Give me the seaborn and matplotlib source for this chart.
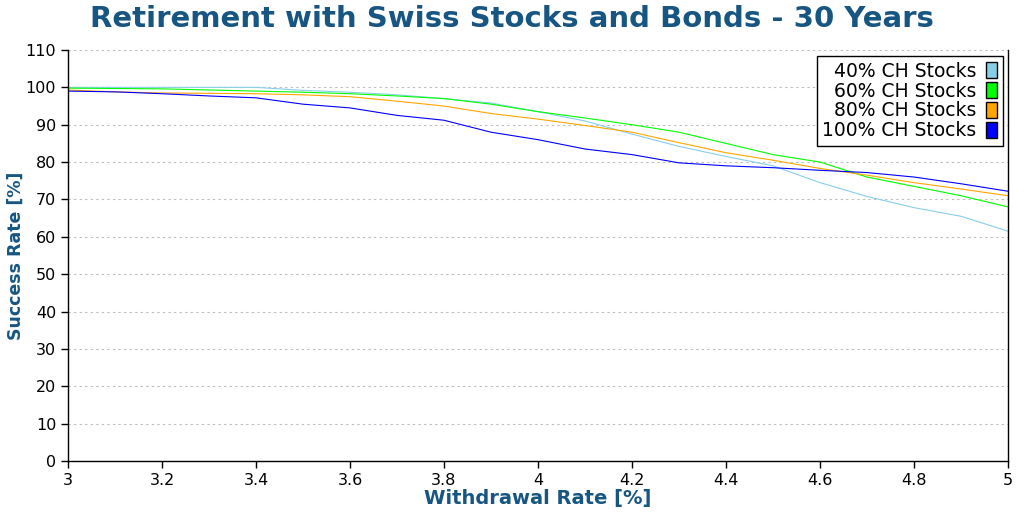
import matplotlib
matplotlib.use("Agg")
import matplotlib.pyplot as plt
import seaborn as sns
import pandas as pd
from matplotlib.patches import Patch

withdrawal = [3.0, 3.1, 3.2, 3.3, 3.4, 3.5, 3.6, 3.7, 3.8, 3.9, 4.0, 4.1, 4.2, 4.3, 4.4, 4.5, 4.6, 4.7, 4.8, 4.9, 5.0]
s40 = [100, 100, 100, 100, 100, 99.2, 98.7, 98.0, 97.0, 95.8, 93.5, 91.0, 87.5, 84.2, 81.5, 79.0, 74.5, 70.8, 67.8, 65.5, 61.5]
s60 = [99.8, 99.7, 99.6, 99.3, 99.0, 98.7, 98.3, 97.7, 97.0, 95.5, 93.5, 91.8, 90.0, 88.0, 85.0, 82.0, 80.0, 76.0, 73.5, 71.0, 68.0]
s80 = [99.3, 98.8, 98.5, 98.4, 98.3, 98.0, 97.5, 96.3, 95.0, 93.0, 91.5, 89.8, 88.0, 85.2, 82.5, 80.5, 78.3, 76.5, 74.5, 72.8, 71.0]
s100 = [99.0, 98.8, 98.3, 97.7, 97.2, 95.5, 94.5, 92.5, 91.2, 88.0, 86.0, 83.5, 82.0, 79.8, 79.0, 78.5, 77.8, 77.2, 76.0, 74.2, 72.2]
labels = ["40% CH Stocks", "60% CH Stocks", "80% CH Stocks", "100% CH Stocks"]
colors = ["#87ceeb", "#00ff00", "#ffa500", "#0000ff"]

rows = []
for lab, vals in zip(labels, [s40, s60, s80, s100]):
    for x, v in zip(withdrawal, vals):
        rows.append({"Withdrawal": x, "Success": v, "Portfolio": lab})
df = pd.DataFrame(rows)

sns.set_style("white")
plt.rcParams['font.family'] = ['DejaVu Sans']
title_color = "#175682"

fig = plt.figure(figsize=(10.24, 5.12), dpi=100)
ax = fig.add_axes([68/1024, 51/512, 940/1024, 411/512])

sns.lineplot(data=df, x="Withdrawal", y="Success", hue="Portfolio",
             palette=dict(zip(labels, colors)), linewidth=0.8, ax=ax, legend=False)

ax.set_xlim(3, 5)
ax.set_ylim(0, 110)
ax.set_xticks([3, 3.2, 3.4, 3.6, 3.8, 4, 4.2, 4.4, 4.6, 4.8, 5])
ax.set_xticklabels(["3", "3.2", "3.4", "3.6", "3.8", "4", "4.2", "4.4", "4.6", "4.8", "5"])
ax.set_yticks(range(0, 111, 10))
ax.yaxis.grid(True, linestyle=(0, (2, 3)), color="#bbbbbb", linewidth=0.8)
ax.xaxis.grid(False)
for s in ["left", "bottom", "right"]:
    ax.spines[s].set_visible(True)
    ax.spines[s].set_color("black")
    ax.spines[s].set_linewidth(1.0)
ax.spines["top"].set_visible(False)
ax.tick_params(axis="both", direction="out", length=5, width=1, color="black", labelcolor="black",
               labelsize=11.5, bottom=True, left=True)

ax.set_xlabel("Withdrawal Rate [%]", fontsize=14, fontweight="bold", color=title_color, labelpad=1)
ax.set_ylabel("Success Rate [%]", fontsize=12.5, fontweight="bold", color=title_color)
ax.yaxis.set_label_coords(-43/940, 0.5)
fig.suptitle("Retirement with Swiss Stocks and Bonds - 30 Years", fontsize=21, fontweight="bold", color=title_color, y=0.99)

handles = [Patch(facecolor=c, edgecolor="black", linewidth=1) for c in colors]
leg = ax.legend(handles, labels, loc="upper right", markerfirst=False, fontsize=13.5, frameon=True,
                fancybox=False, edgecolor="black", framealpha=1, handlelength=0.6, handleheight=0.95,
                handletextpad=0.5, labelspacing=0.05, borderpad=0.3, borderaxespad=0,
                bbox_to_anchor=(935/940, 405/411))
leg.get_frame().set_linewidth(1.0)
for t in leg.get_texts():
    t.set_ha("right")
    t.set_color("black")

fig.savefig("out.png", dpi=100)
